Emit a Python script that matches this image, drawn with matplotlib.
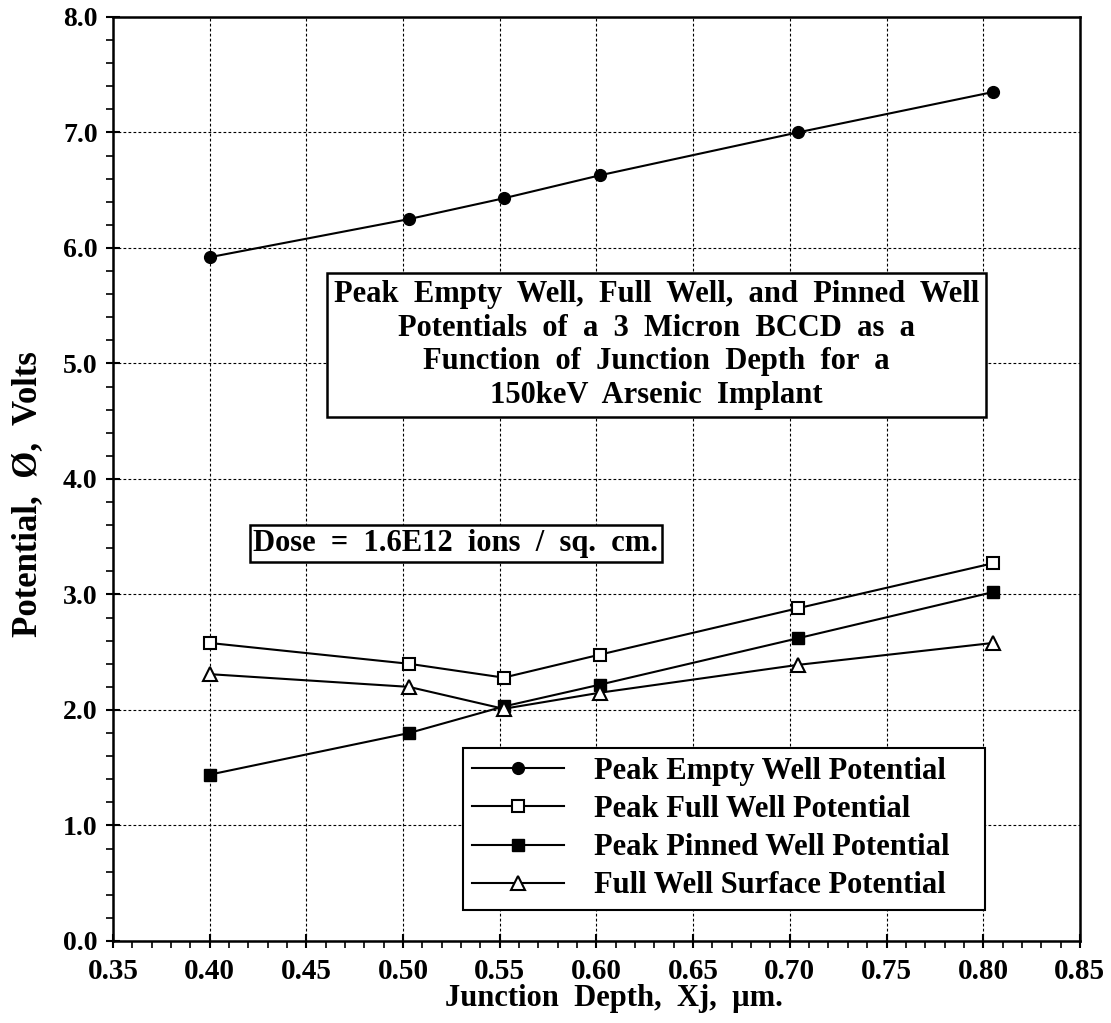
import numpy as np
import matplotlib.pyplot as plt
from matplotlib.ticker import MultipleLocator

# junction depth (um)
xj = [0.40, 0.503, 0.552, 0.602, 0.704, 0.805]

# potentials (volts)
peak_empty = [5.92, 6.25, 6.43, 6.63, 7.00, 7.35]
peak_full = [2.58, 2.40, 2.28, 2.48, 2.88, 3.27]
peak_pinned = [1.44, 1.80, 2.03, 2.22, 2.62, 3.02]
surface_full = [2.31, 2.20, 2.01, 2.15, 2.39, 2.58]

labels = ["Peak Empty Well Potential", "Peak Full Well Potential",
          "Peak Pinned Well Potential", "Full Well Surface Potential"]

x_ticks = [0.35, 0.40, 0.45, 0.50, 0.55, 0.60, 0.65, 0.70, 0.75, 0.80, 0.85]
y_ticks = [0.0, 1.0, 2.0, 3.0, 4.0, 5.0, 6.0, 7.0, 8.0]

plt.rcParams['font.family'] = ['Liberation Serif', 'DejaVu Serif']
plt.rcParams['font.weight'] = 'bold'

fig = plt.figure(figsize=(11.11, 10.23), dpi=100)
ax = fig.add_axes([0.1017, 0.0802, 0.8703, 0.9032])

lw = 1.5
ax.plot(xj, peak_empty, color='black', lw=lw, marker='o', ms=8.5,
        mfc='black', label=labels[0], zorder=3)
ax.plot(xj, peak_full, color='black', lw=lw, marker='s', ms=8,
        mfc='white', mew=1.5, label=labels[1], zorder=3)
ax.plot(xj, peak_pinned, color='black', lw=lw, marker='s', ms=8,
        mfc='black', label=labels[2], zorder=3)
ax.plot(xj, surface_full, color='black', lw=lw, marker='^', ms=9.5,
        mfc='white', mew=1.5, label=labels[3], zorder=3)

ax.set_xlim(0.35, 0.85)
ax.set_ylim(0.0, 8.0)
ax.set_xticks(x_ticks)
ax.set_xticklabels(['%.2f' % v for v in x_ticks])
ax.set_yticks(y_ticks)
ax.set_yticklabels(['%.1f' % v for v in y_ticks])
ax.xaxis.set_minor_locator(MultipleLocator(0.01))
ax.yaxis.set_minor_locator(MultipleLocator(0.2))

ax.tick_params(which='major', direction='inout', length=10, width=1.5)
ax.tick_params(which='minor', direction='out', length=5, width=1.2)
ax.tick_params(axis='x', which='major', labelsize=21, pad=7)
ax.tick_params(axis='y', which='major', labelsize=20, pad=6)
ax.tick_params(axis='x', which='both', top=False)
ax.tick_params(axis='y', which='both', right=False)
for sp in ax.spines.values():
    sp.set_linewidth(1.8)

ax.grid(True, which='major', color='black', linestyle=(0, (2.5, 2)), lw=0.8)
ax.set_axisbelow(True)

ax.set_xlabel("Junction  Depth,  Xj,  \u00b5m.", fontsize=22, fontweight='bold',
              va='top')
ax.xaxis.set_label_coords(0.518, -0.047)
ax.set_ylabel("Potential,  \u00d8,  Volts", fontsize=25, fontweight='bold')
ax.yaxis.set_label_coords(-0.071, 0.484)

ax.text(0.631, 5.16, "Peak  Empty  Well,  Full  Well,  and  Pinned  Well\n"
        "Potentials  of  a  3  Micron  BCCD  as  a\n"
        "Function  of  Junction  Depth  for  a\n"
        "150keV  Arsenic  Implant",
        ha='center', va='center', fontsize=22, fontweight='bold',
        linespacing=1.22, zorder=4,
        bbox=dict(boxstyle='square,pad=0.22', fc='white', ec='black', lw=1.8))

ax.text(0.4225, 3.44, "Dose  =  1.6E12  ions  /  sq.  cm.", ha='left',
        va='center', fontsize=22, fontweight='bold', zorder=4,
        bbox=dict(boxstyle='square,pad=0.12', fc='white', ec='black', lw=1.8))

leg = ax.legend(loc='lower left', bbox_to_anchor=(0.362, 0.034, 0.54, 0.19),
                mode='expand', frameon=True, fancybox=False,
                edgecolor='black', handlelength=3.0, borderpad=0.3,
                labelspacing=0.3, handletextpad=1.0, borderaxespad=0,
                prop={'weight': 'bold', 'size': 22, 'family': 'Liberation Serif'})
leg.get_frame().set_linewidth(1.5)
leg.get_frame().set_alpha(1)
leg.set_zorder(5)

fig.savefig('out.png', dpi=100)
